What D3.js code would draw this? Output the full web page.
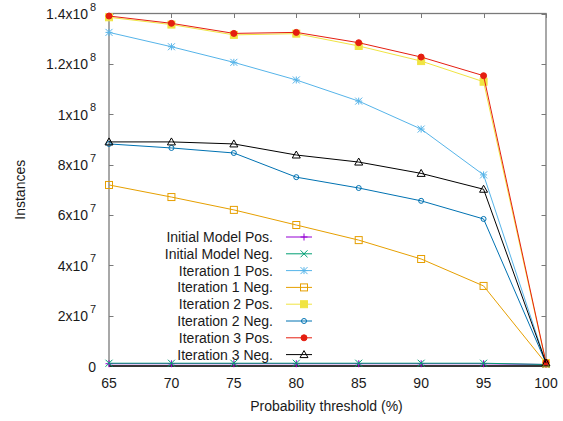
<!DOCTYPE html>
<html>
<head>
<meta charset="utf-8">
<script src="https://cdn.jsdelivr.net/npm/d3@7"></script>
<style>
  html, body { margin: 0; padding: 0; background: #fff; }
  svg { display: block; font-family: "Liberation Sans", Arial, sans-serif; }
</style>
</head>
<body>
<svg id="chart" width="563" height="421"></svg>
<script>
// Probability thresholds (%)
const thresholds = [65, 70, 75, 80, 85, 90, 95, 100];

// Instance counts per series
const initialPos = [0.9e6, 0.9e6, 0.9e6, 0.9e6, 0.9e6, 0.9e6, 0.9e6, 0.6e6];
const initialNeg = [1.1e6, 1.1e6, 1.1e6, 1.1e6, 1.1e6, 1.1e6, 1.1e6, 0.6e6];
const iter1Pos = [13.25e7, 12.68e7, 12.06e7, 11.36e7, 10.52e7, 9.41e7, 7.59e7, 1.2e6];
const iter1Neg = [7.19e7, 6.71e7, 6.2e7, 5.6e7, 5.0e7, 4.25e7, 3.18e7, 1.0e6];
const iter2Pos = [13.85e7, 13.56e7, 13.15e7, 13.2e7, 12.71e7, 12.11e7, 11.29e7, 1.2e6];
const iter2Neg = [8.82e7, 8.66e7, 8.46e7, 7.5e7, 7.07e7, 6.56e7, 5.84e7, 1.2e6];
const iter3Pos = [13.9e7, 13.61e7, 13.21e7, 13.25e7, 12.84e7, 12.27e7, 11.53e7, 1.4e6];
const iter3Neg = [8.9e7, 8.9e7, 8.82e7, 8.38e7, 8.1e7, 7.65e7, 7.02e7, 1.2e6];

const seriesNames = ["Initial Model Pos.", "Initial Model Neg.", "Iteration 1 Pos.", "Iteration 1 Neg.",
                     "Iteration 2 Pos.", "Iteration 2 Neg.", "Iteration 3 Pos.", "Iteration 3 Neg."];
const seriesValues = [initialPos, initialNeg, iter1Pos, iter1Neg, iter2Pos, iter2Neg, iter3Pos, iter3Neg];
const seriesColors = ["#9400d3", "#009e73", "#56b4e9", "#e69f00", "#f0e442", "#0072b2", "#e51e10", "#000000"];
const seriesMarkers = ["plus", "cross", "star", "square", "squareFilled", "circle", "circleFilled", "triangle"];

const xTicks = [65, 70, 75, 80, 85, 90, 95, 100];
const yTicks = [0, 2e7, 4e7, 6e7, 8e7, 1e8, 1.2e8, 1.4e8];
const yTickMantissa = ["0", "2x10", "4x10", "6x10", "8x10", "1x10", "1.2x10", "1.4x10"];
const yTickExponent = ["", "7", "7", "7", "7", "8", "8", "8"];

const svg = d3.select("#chart");
const plotLeft = 109, plotRight = 546, plotTop = 13.5, plotBottom = 366;

const x = d3.scaleLinear().domain([65, 100]).range([plotLeft, plotRight]);
const y = d3.scaleLinear().domain([0, 1.4e8]).range([plotBottom, plotTop]);

const borderColor = "#7a7a7a";
const textColor = "#1a1a1a";
const fontSize = 14;
const tickLen = 4.5;

// Inward ticks on all four sides (gnuplot mirror style)
const gTicks = svg.append("g").attr("stroke", borderColor).attr("stroke-width", 1);
xTicks.forEach(t => {
  const px = Math.round(x(t)) + 0.5;
  gTicks.append("line").attr("x1", px).attr("x2", px).attr("y1", plotBottom).attr("y2", plotBottom - tickLen);
  gTicks.append("line").attr("x1", px).attr("x2", px).attr("y1", plotTop).attr("y2", plotTop + tickLen);
});
yTicks.forEach(t => {
  const py = Math.round(y(t)) + 0.5;
  gTicks.append("line").attr("x1", plotLeft).attr("x2", plotLeft + tickLen).attr("y1", py).attr("y2", py);
  gTicks.append("line").attr("x1", plotRight).attr("x2", plotRight - tickLen).attr("y1", py).attr("y2", py);
});

// Plot border
svg.append("rect")
  .attr("x", plotLeft).attr("y", plotTop)
  .attr("width", plotRight - plotLeft).attr("height", plotBottom - plotTop)
  .attr("fill", "none").attr("stroke", borderColor).attr("stroke-width", 1.3);
svg.append("line")
  .attr("x1", plotLeft).attr("x2", plotRight).attr("y1", plotBottom).attr("y2", plotBottom)
  .attr("stroke", "#111").attr("stroke-width", 1.3);

// X tick labels
svg.append("g").selectAll("text").data(xTicks).join("text")
  .attr("x", d => x(d)).attr("y", plotBottom + 22)
  .attr("text-anchor", "middle").attr("font-size", fontSize).attr("fill", textColor)
  .text(d => d);

// Y tick labels with superscript exponents
const yLab = svg.append("g");
yTicks.forEach((t, i) => {
  yLab.append("text")
    .attr("x", yTickExponent[i] ? 88 : 96)
    .attr("y", y(t) + 5.5)
    .attr("text-anchor", "end").attr("font-size", fontSize).attr("fill", textColor)
    .text(yTickMantissa[i]);
  if (yTickExponent[i]) {
    yLab.append("text")
      .attr("x", 90).attr("y", y(t) - 3)
      .attr("font-size", 11).attr("fill", textColor)
      .text(yTickExponent[i]);
  }
});

// Axis titles
svg.append("text")
  .attr("x", (plotLeft + plotRight) / 2 - 1).attr("y", 411)
  .attr("text-anchor", "middle").attr("font-size", fontSize).attr("fill", textColor)
  .text("Probability threshold (%)");
svg.append("text")
  .attr("transform", `translate(25, ${(plotTop + plotBottom) / 2}) rotate(-90)`)
  .attr("text-anchor", "middle").attr("font-size", fontSize).attr("fill", textColor)
  .text("Instances");

// Marker drawing helper
function drawMarker(g, type, cx, cy, color) {
  const s = 3.5;
  const m = g.append("g").attr("transform", `translate(${cx},${cy})`)
    .attr("stroke", color).attr("stroke-width", 1).attr("fill", "none");
  switch (type) {
    case "plus":
      m.append("path").attr("d", `M${-s},0H${s}M0,${-s}V${s}`);
      break;
    case "cross":
      m.append("path").attr("d", `M${-s},${-s}L${s},${s}M${-s},${s}L${s},${-s}`);
      break;
    case "star":
      m.append("path").attr("d", `M${-s},0H${s}M0,${-s}V${s}M${-s},${-s}L${s},${s}M${-s},${s}L${s},${-s}`);
      break;
    case "square":
      m.append("rect").attr("x", -s).attr("y", -s).attr("width", 2 * s).attr("height", 2 * s);
      break;
    case "squareFilled":
      m.append("rect").attr("x", -s).attr("y", -s).attr("width", 2 * s).attr("height", 2 * s).attr("fill", color);
      break;
    case "circle":
      m.append("circle").attr("r", 2.5);
      break;
    case "circleFilled":
      m.append("circle").attr("r", 3).attr("fill", color);
      break;
    case "triangle":
      m.append("path").attr("d", `M0,${-s - 0.5}L${s + 0.5},${s - 0.5}L${-s - 0.5},${s - 0.5}Z`);
      break;
  }
}

// Series lines and markers
const line = d3.line().x((d, i) => x(thresholds[i])).y(d => y(d));
const gSeries = svg.append("g");
seriesValues.forEach((vals, k) => {
  const g = gSeries.append("g");
  g.append("path").datum(vals)
    .attr("d", line)
    .attr("fill", "none").attr("stroke", seriesColors[k]).attr("stroke-width", 1);
  vals.forEach((v, i) => drawMarker(g, seriesMarkers[k], x(thresholds[i]), y(v), seriesColors[k]));
});

// Legend
const legend = svg.append("g");
seriesNames.forEach((name, k) => {
  const ly = 237 + k * 16.8;
  legend.append("text")
    .attr("x", 273).attr("y", ly + 5)
    .attr("text-anchor", "end").attr("font-size", fontSize).attr("fill", textColor)
    .text(name);
  legend.append("line")
    .attr("x1", 286).attr("x2", 312).attr("y1", ly).attr("y2", ly)
    .attr("stroke", seriesColors[k]).attr("stroke-width", 1);
  drawMarker(legend, seriesMarkers[k], 304, ly, seriesColors[k]);
});
</script>
</body>
</html>
